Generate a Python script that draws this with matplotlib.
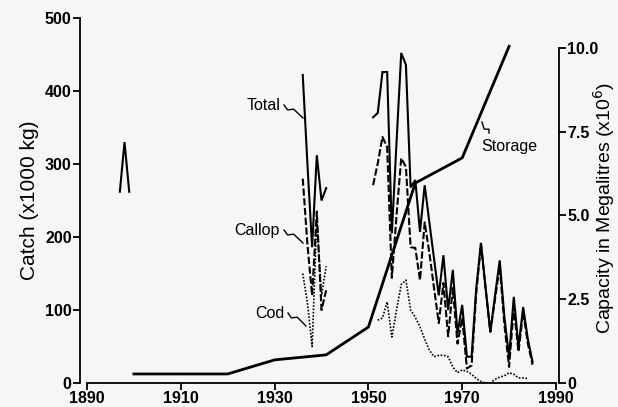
import numpy as np
import matplotlib.pyplot as plt

plt.rcParams['font.family'] = ['Liberation Sans', 'DejaVu Sans']

nan = np.nan

# catch records (x1000 kg), three separate runs of records
yr_1890s = [1897, 1898, 1899]
total_1890s = [262, 330, 262]

yr_1930s = [1936, 1937, 1938, 1939, 1940, 1941]
total_1930s = [422, 300, 186, 312, 250, 267]
callop_1930s = [280, 190, 120, 235, 100, 127]
cod_1930s = [150, 110, 50, 225, 120, 160]

yr_post = list(range(1951, 1986))
total_post = [364, 370, 426, 426, 205, 330, 452, 436, 268, 278,
              207, 271, 220, 170, 120, 175, 100, 155, 68, 107,
              36, 36, 130, 192, 130, 70, 120, 168, 90, 36,
              118, 50, 104, 60, 29]
callop_post = [271, 301, 337, 323, 144, 230, 308, 296, 186, 185,
               141, 220, 178, 130, 82, 137, 64, 130, 54, 89,
               20, 24, 124, 190, 128, 70, 115, 160, 80, 22,
               104, 43, 97, 54, 25]
cod_post = [nan, 86, 89, 111, 63, 100, 135, 141, 100, 90,
            77, 60, 45, 36, 38, 38, 36, 22, 14, 18,
            16, 12, 6, 2, 0, 0, 5, 8, 10, 14,
            12, 7, 7, 6, nan]

# storage capacity (x10^6 megalitres)
storage_yr = [1900, 1920, 1930, 1941, 1950, 1960, 1970, 1980]
storage_cap = [0.27, 0.27, 0.69, 0.84, 1.67, 5.97, 6.72, 10.05]

bg = '#f6f6f4'
fig = plt.figure(figsize=(6.18, 4.07), dpi=100, facecolor=bg)
ax = fig.add_axes([87 / 618, 24 / 407, 469 / 618, 365 / 407])
ax.set_facecolor(bg)
ax2 = ax.twinx()

lw = 1.5
for yr, tot in [(yr_1890s, total_1890s), (yr_1930s, total_1930s), (yr_post, total_post)]:
    ax.plot(yr, tot, color='black', lw=lw, solid_joinstyle='miter')
for yr, cal in [(yr_1930s, callop_1930s), (yr_post, callop_post)]:
    ax.plot(yr, cal, color='black', lw=lw, ls=(0, (3.5, 1.2)))
for yr, cod in [(yr_1930s, cod_1930s), (yr_post, cod_post)]:
    ax.plot(yr, cod, color='black', lw=1.2, ls=(0, (1, 1)))

ax2.plot(storage_yr, storage_cap, color='black', lw=2)

ax.set_xlim(1890, 1990)
ax.set_ylim(0, 500)
ax2.set_ylim(0, (383 - 18) / 33.5)

ax.set_xticks([1890, 1910, 1930, 1950, 1970, 1990])
ax.set_yticks([0, 100, 200, 300, 400, 500])
ax2.set_yticks([0, 2.5, 5.0, 7.5, 10.0])
ax2.set_yticklabels(['0', '2.5', '5.0', '7.5', '10.0'])

for a in (ax, ax2):
    a.spines['top'].set_visible(False)
ax.spines['right'].set_visible(False)
ax2.spines['left'].set_visible(False)
ax2.spines['bottom'].set_visible(False)
ax.spines['left'].set_position(('outward', 5))
ax2.spines['right'].set_position(('outward', 2))
ax2.spines['right'].set_bounds(0, 10)
for sp in list(ax.spines.values()) + list(ax2.spines.values()):
    sp.set_linewidth(1.3)

ax.tick_params(axis='both', direction='out', length=5, width=1.3, pad=1, labelsize=11.5)
ax2.tick_params(axis='y', direction='out', length=5, width=1.3, pad=1, labelsize=11.5)
for lab in ax.get_xticklabels() + ax.get_yticklabels() + ax2.get_yticklabels():
    lab.set_fontweight('bold')

ax.set_ylabel('Catch (x1000 kg)', fontsize=15, labelpad=4)
fig.text(604 / 618, 0.49, 'Capacity in Megalitres (x10$^6$)', rotation=90,
         fontsize=14, ha='center', va='center')


def squiggle(p0, p1):
    # little lightning-bolt leader between a label and its line, in pixels
    p0 = np.array(p0, float)
    p1 = np.array(p1, float)
    d = p1 - p0
    n = np.array([-d[1], d[0]]) / np.hypot(*d)
    pts = [p0, p0 + 0.25 * d + 2.0 * n, p0 + 0.45 * d - 2.0 * n, p1]
    pts = np.array(pts)
    pts[:, 1] = 407 - pts[:, 1]
    fig.add_artist(plt.Line2D(pts[:, 0], pts[:, 1], color='black', lw=1.0,
                              transform=None))


label_font = dict(fontsize=11.5, color='black')
fig.text(264 / 618, 1 - 106 / 407, 'Total', ha='center', va='center', **label_font)
squiggle((284, 105), (303, 118))
fig.text(257 / 618, 1 - 231 / 407, 'Callop', ha='center', va='center', **label_font)
squiggle((284, 230), (303, 243))
fig.text(270 / 618, 1 - 313 / 407, 'Cod', ha='center', va='center', **label_font)
squiggle((288, 313), (306, 326))
fig.text(509 / 618, 1 - 146 / 407, 'Storage', ha='center', va='center', **label_font)
squiggle((489, 133), (482, 122))

fig.savefig('out.png', dpi=100, facecolor=bg)
